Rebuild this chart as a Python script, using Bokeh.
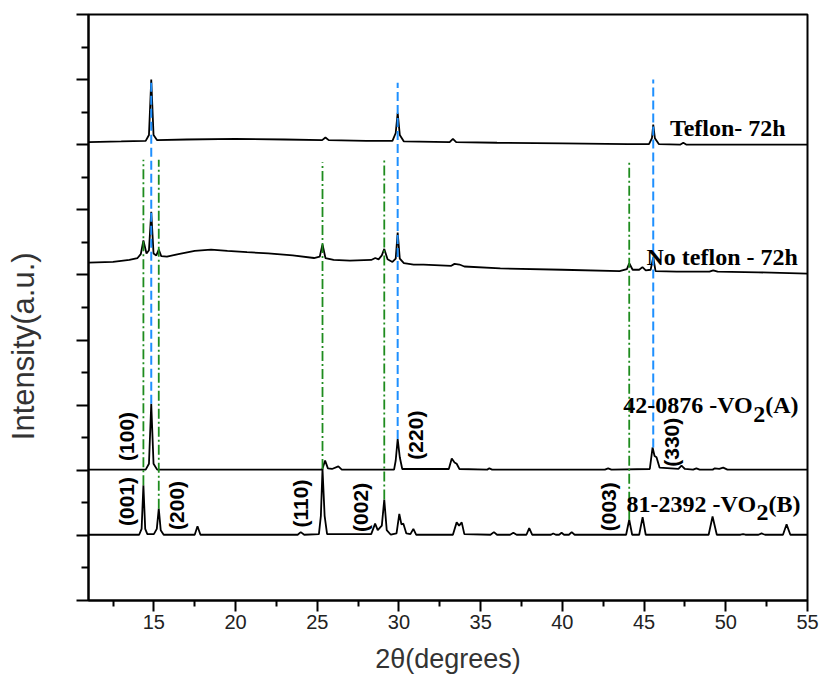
import math
from bokeh.plotting import figure
from bokeh.models import FixedTicker, Range1d, CustomJSTickFormatter
from bokeh.core.properties import value
from bokeh.embed import file_html
from bokeh.resources import INLINE

# ---------------- data ----------------
teflon_x = [11.0, 13.0, 14.5, 14.7, 14.84, 14.98, 15.2, 17.0, 20.0, 23.0, 25.3, 25.5, 25.7,
            28.0, 29.6, 29.8, 29.92, 30.05, 30.3, 33.1, 33.3, 33.5, 36.0, 40.0, 44.0,
            45.3, 45.48, 45.56, 45.66, 45.9, 47.2, 47.4, 47.6, 50.0, 55.0]
teflon_y = [7.04, 7.05, 7.06, 7.15, 8.0, 7.15, 7.07, 7.08, 7.09, 7.08, 7.07, 7.11, 7.07,
            7.06, 7.06, 7.18, 7.49, 7.15, 7.05, 7.04, 7.09, 7.04, 7.03, 7.02, 7.01,
            7.01, 7.10, 7.31, 7.10, 7.01, 7.00, 7.03, 7.00, 7.00, 7.00]

noteflon_x = [11.0, 12.5, 13.5, 14.0, 14.2, 14.36, 14.55, 14.7, 14.84, 14.98, 15.15, 15.3, 15.45,
              15.8, 16.5, 17.5, 18.5, 19.5, 20.7, 22.0, 23.5, 24.8, 25.15, 25.32, 25.5, 26.0,
              27.0, 28.3, 28.55, 28.75, 28.95, 29.1, 29.3, 29.6, 29.8, 29.92, 30.05, 30.3,
              30.9, 31.5, 33.2, 33.4, 33.7, 34.0, 36.2, 40.0, 43.5, 43.95, 44.09, 44.3, 44.7,
              44.9, 45.1, 45.4, 45.56, 45.7, 47.0, 49.0, 49.23, 49.5, 52.0, 55.0]
noteflon_y = [5.19, 5.20, 5.23, 5.26, 5.32, 5.53, 5.33, 5.38, 5.97, 5.33, 5.30, 5.39, 5.29,
              5.28, 5.32, 5.37, 5.39, 5.37, 5.35, 5.33, 5.30, 5.26, 5.28, 5.47, 5.26, 5.23,
              5.22, 5.23, 5.26, 5.24, 5.30, 5.40, 5.24, 5.20, 5.25, 5.65, 5.25, 5.18,
              5.16, 5.16, 5.14, 5.17, 5.16, 5.13, 5.10, 5.08, 5.06, 5.09, 5.18, 5.08, 5.08,
              5.12, 5.07, 5.08, 5.27, 5.06, 5.05, 5.05, 5.07, 5.05, 5.04, 5.02]

vo2a_x = [11.0, 14.5, 14.7, 14.84, 14.98, 15.2, 25.3, 25.48, 25.65, 25.9, 26.29, 26.5, 29.7,
          29.8, 29.92, 30.05, 30.2, 33.05, 33.23, 33.4, 33.53, 33.7, 35.4, 35.53, 35.7, 42.6,
          42.8, 43.0, 45.35, 45.52, 45.64, 45.76, 45.95, 47.1, 47.29, 47.5, 48.0, 48.2, 48.4,
          49.2, 49.33, 49.6, 49.84, 50.1, 55.0]
vo2a_y = [2.01, 2.01, 2.10, 3.02, 2.10, 2.01, 2.01, 2.15, 2.03, 2.02, 2.06, 2.01, 2.01,
          2.15, 2.48, 2.20, 2.02, 2.02, 2.18, 2.12, 2.10, 2.02, 2.01, 2.03, 2.01, 2.01,
          2.03, 2.01, 2.02, 2.35, 2.22, 2.20, 2.04, 2.02, 2.07, 2.02, 2.01, 2.03, 2.01,
          2.01, 2.03, 2.02, 2.04, 2.01, 2.01]

vo2b_x = [11.0, 14.1, 14.25, 14.36, 14.47, 14.6, 15.0, 15.18, 15.3, 15.42, 15.6, 17.5, 17.67,
          17.85, 23.8, 23.99, 24.2, 25.1, 25.22, 25.32, 25.45, 25.6, 28.3, 28.54, 28.7, 28.95,
          29.1, 29.25, 29.5, 29.85, 30.02, 30.15, 30.27, 30.45, 30.7, 30.88, 31.05, 33.3,
          33.53, 33.68, 33.84, 34.0, 35.6, 35.81, 36.0, 36.8, 37.0, 37.2, 37.8, 37.97, 38.15,
          39.3, 39.44, 39.6, 39.8, 39.95, 40.1, 40.4, 40.57, 40.75, 43.9, 44.09, 44.27, 44.7,
          44.91, 45.1, 48.95, 49.19, 49.45, 50.9, 51.06, 51.2, 52.0, 52.19, 52.4, 53.5, 53.72,
          53.95, 55.0]
vo2b_y = [1.01, 1.01, 1.10, 1.77, 1.10, 1.02, 1.02, 1.10, 1.41, 1.08, 1.01, 1.01, 1.14,
          1.01, 1.01, 1.05, 1.01, 1.02, 1.30, 2.02, 1.30, 1.02, 1.02, 1.18, 1.08, 1.15,
          1.55, 1.08, 1.01, 1.03, 1.33, 1.17, 1.18, 1.03, 1.02, 1.10, 1.01, 1.01,
          1.20, 1.15, 1.20, 1.02, 1.01, 1.05, 1.01, 1.01, 1.04, 1.01, 1.01, 1.11, 1.01,
          1.01, 1.03, 1.01, 1.01, 1.04, 1.01, 1.01, 1.05, 1.01, 1.01, 1.24, 1.01, 1.01,
          1.28, 1.01, 1.01, 1.29, 1.01, 1.01, 1.02, 1.01, 1.01, 1.03, 1.01, 1.01, 1.17,
          1.01, 1.01]

# reference lines (2theta, top, bottom)
blue_x = [14.84, 29.92, 45.56]
blue_top = [8.0, 7.95, 8.0]
blue_bottom = [3.02, 2.48, 2.35]
green_x = [14.36, 15.30, 25.32, 29.10, 44.09]
green_top = [6.77, 6.77, 6.73, 6.77, 6.73]
green_bottom = [1.77, 1.41, 2.02, 1.55, 1.24]

# sample labels
sample_text = ["Teflon- 72h", "No teflon - 72h"]
sample_x = [46.58, 45.15]
sample_y = [7.26, 5.275]

# phase labels (main part, subscript, tail)
phase_main = ["42-0876 -VO", "81-2392 -VO"]
phase_sub = ["2", "2"]
phase_tail = ["(A)", "(B)"]
phase_x = [43.72, 43.93]
phase_y = [2.996, 1.486]

# Miller indices
hkl_text = ["(100)", "(220)", "(330)", "(001)", "(200)", "(110)", "(002)", "(003)"]
hkl_x = [13.35, 31.03, 46.68, 13.35, 16.41, 24.00, 27.67, 42.80]
hkl_y = [2.52, 2.54, 2.43, 1.52, 1.46, 1.49, 1.43, 1.44]

x_ticks = [15, 20, 25, 30, 35, 40, 45, 50, 55]
x_minor = [12.5, 17.5, 22.5, 27.5, 32.5, 37.5, 42.5, 47.5, 52.5]
y_ticks = [0, 1, 2, 3, 4, 5, 6, 7, 8, 9]
y_minor = [0.5, 1.5, 2.5, 3.5, 4.5, 5.5, 6.5, 7.5, 8.5]

x_title = "2θ(degrees)"
y_title = "Intensity(a.u.)"

# ---------------- figure ----------------
p = figure(width=822, height=684, output_backend="svg", toolbar_location=None,
           x_range=Range1d(11, 55), y_range=Range1d(0, 9),
           min_border_left=88, min_border_right=15, min_border_top=14, min_border_bottom=84)
p.background_fill_color = "white"
p.border_fill_color = "white"
p.outline_line_color = "black"
p.outline_line_width = 2
p.xgrid.visible = False
p.ygrid.visible = False

# x axis
xa = p.xaxis[0]
xa.ticker = FixedTicker(ticks=x_ticks, minor_ticks=x_minor)
xa.axis_label = x_title
xa.axis_label_text_font = "Liberation Sans"
xa.axis_label_text_font_style = "normal"
xa.axis_label_text_font_size = "27px"
xa.axis_label_text_color = "#333333"
xa.axis_label_standoff = 12
xa.major_label_text_font = "Liberation Sans"
xa.major_label_text_font_size = "20px"
xa.major_label_text_color = "#222222"
xa.major_label_standoff = 3
xa.axis_line_width = 2
xa.major_tick_line_width = 2
xa.minor_tick_line_width = 2
xa.major_tick_in = 0
xa.major_tick_out = 11
xa.minor_tick_in = 0
xa.minor_tick_out = 6

# y axis (ticks without numbers)
ya = p.yaxis[0]
ya.ticker = FixedTicker(ticks=y_ticks, minor_ticks=y_minor)
ya.formatter = CustomJSTickFormatter(code="return '';")
ya.major_label_text_font_size = "20px"
ya.major_label_standoff = 0
ya.axis_line_width = 2
ya.major_tick_line_width = 2
ya.minor_tick_line_width = 2
ya.major_tick_in = 0
ya.major_tick_out = 12
ya.minor_tick_in = 0
ya.minor_tick_out = 7
# trailing no-break spaces move the visible title a little below the frame centre,
# where the reference places it
ya.axis_label = y_title + "\u00a0" * 9
ya.axis_label_text_font = "Liberation Sans"
ya.axis_label_text_font_style = "normal"
ya.axis_label_text_font_size = "31px"
ya.axis_label_text_color = "#333333"
ya.axis_label_standoff = 36

# curves
for xs, ys in [(teflon_x, teflon_y), (noteflon_x, noteflon_y), (vo2a_x, vo2a_y), (vo2b_x, vo2b_y)]:
    p.line(xs, ys, line_color="black", line_width=1.8)

# reference lines
p.segment(x0=blue_x, y0=blue_bottom, x1=blue_x, y1=blue_top,
          line_color="#1E90FF", line_width=2, line_dash="9 4")
p.segment(x0=green_x, y0=green_bottom, x1=green_x, y1=green_top,
          line_color="#1E8C1E", line_width=1.8, line_dash="10 3 2 3")

serif = value("Liberation Serif")
fs = 24
# sample labels
p.text(x=sample_x, y=sample_y, text=sample_text, text_font=serif, text_font_style="bold",
       text_font_size=f"{fs}px", text_align="left", text_baseline="alphabetic", text_color="black")

# phase labels with subscript
main_w = 5.416 * fs
sub_w = 0.5 * fs
p.text(x=phase_x, y=phase_y, text=phase_main, text_font=serif, text_font_style="bold",
       text_font_size=f"{fs}px", text_align="left", text_baseline="alphabetic", text_color="black")
p.text(x=phase_x, y=phase_y, text=phase_sub, text_font=serif, text_font_style="bold",
       text_font_size=f"{fs}px", text_align="left", text_baseline="alphabetic", text_color="black",
       x_offset=main_w, y_offset=9)
p.text(x=phase_x, y=phase_y, text=phase_tail, text_font=serif, text_font_style="bold",
       text_font_size=f"{fs}px", text_align="left", text_baseline="alphabetic", text_color="black",
       x_offset=main_w + sub_w)

# Miller indices
p.text(x=hkl_x, y=hkl_y, text=hkl_text, angle=math.pi / 2, text_font=value("Liberation Sans"),
       text_font_style="bold", text_font_size="21px", text_align="center", text_baseline="middle",
       text_color="black")

open("out.html", "w").write(file_html(p, INLINE))
